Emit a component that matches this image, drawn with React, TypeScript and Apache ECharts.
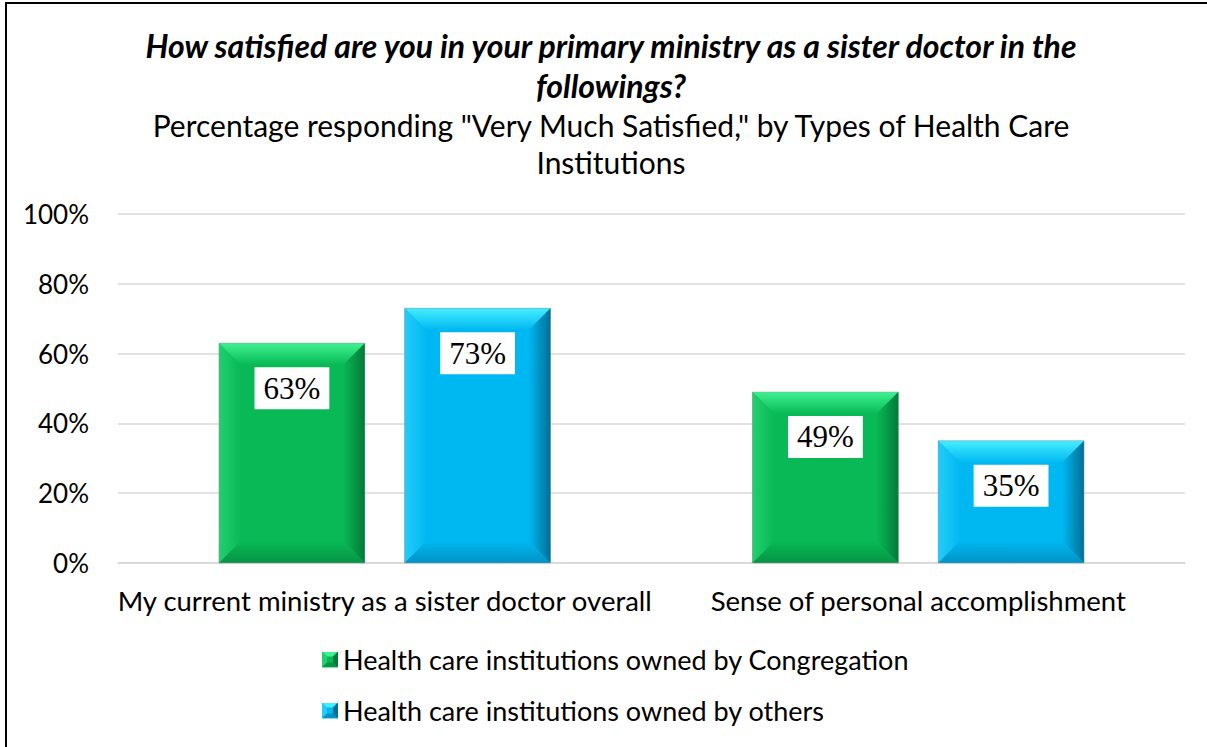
import React, { useEffect, useRef } from "react";
import * as echarts from "echarts";

const categories = [
  "My current ministry as a sister doctor overall",
  "Sense of personal accomplishment",
];
const seriesNames = [
  "Health care institutions owned by Congregation",
  "Health care institutions owned by others",
];
const congregationValues = [63, 49];
const othersValues = [73, 35];
const yTicks = [0, 20, 40, 60, 80, 100];

const titleText =
  "How satisfied are you in your primary ministry as a sister doctor in the\nfollowings?";
const subtitleText =
  'Percentage responding "Very Much Satisfied," by Types of Health Care\nInstitutions';

const palettes = [
  {
    main: "#08B956",
    topLight: "#3FF291",
    leftLight: "#22CF6E",
    rightDark: "#047A39",
    bottomDark: "#069445",
  },
  {
    main: "#00B8F1",
    topLight: "#45EEFF",
    leftLight: "#24CCF8",
    rightDark: "#006F95",
    bottomDark: "#0093C6",
  },
];

const SANS = "Lato, 'Open Sans', sans-serif";

function lg(x0: number, y0: number, x1: number, y1: number, c0: string, c1: string) {
  return new echarts.graphic.LinearGradient(x0, y0, x1, y1, [
    { offset: 0, color: c0 },
    { offset: 1, color: c1 },
  ]);
}

function iconUri(p: any) {
  const svg = `<svg xmlns="http://www.w3.org/2000/svg" width="16" height="16" viewBox="0 0 16 16"><rect x="0" y="0" width="16" height="16" fill="${p.main}"/><polygon points="0,0 16,0 11,5 5,5" fill="${p.topLight}"/><polygon points="0,0 5,5 5,11 0,16" fill="${p.leftLight}"/><polygon points="16,0 16,16 11,11 11,5" fill="${p.rightDark}"/><polygon points="0,16 16,16 11,11 5,11" fill="${p.bottomDark}"/></svg>`;
  return "image://data:image/svg+xml;charset=utf-8," + encodeURIComponent(svg);
}

function makeRenderItem(seriesIdx: number) {
  const p = palettes[seriesIdx];
  const sign = seriesIdx === 0 ? -1 : 1;
  return (params: any, api: any) => {
    const cat = api.value(0);
    const val = api.value(1);
    const top = api.coord([cat, val]);
    const base = api.coord([cat, 0]);
    const band = api.size([1, 0])[0];
    const bw = band * 0.2735;
    const cx = top[0] + sign * band * 0.174;
    const x0 = cx - bw / 2;
    const x1 = cx + bw / 2;
    const y0 = top[1];
    const y1 = base[1];
    const b = Math.min(22, (y1 - y0) / 2, bw / 2);
    return {
      type: "group",
      children: [
        {
          type: "rect",
          shape: { x: x0, y: y0, width: x1 - x0, height: y1 - y0 },
          style: { fill: p.main },
        },
        {
          type: "polygon",
          shape: { points: [[x0, y0], [x1, y0], [x1 - b, y0 + b], [x0 + b, y0 + b]] },
          style: { fill: lg(0, 0, 0, 1, p.topLight, p.main) },
        },
        {
          type: "polygon",
          shape: { points: [[x0, y0], [x0 + b, y0 + b], [x0 + b, y1 - b], [x0, y1]] },
          style: { fill: lg(0, 0, 1, 0, p.leftLight, p.main) },
        },
        {
          type: "polygon",
          shape: { points: [[x1, y0], [x1, y1], [x1 - b, y1 - b], [x1 - b, y0 + b]] },
          style: { fill: lg(1, 0, 0, 0, p.rightDark, p.main) },
        },
        {
          type: "polygon",
          shape: { points: [[x0, y1], [x1, y1], [x1 - b, y1 - b], [x0 + b, y1 - b]] },
          style: { fill: lg(0, 1, 0, 0, p.bottomDark, p.main) },
        },
        {
          type: "rect",
          shape: { x: x0, y: y0, width: x1 - x0, height: y1 - y0 },
          style: { fill: "none", stroke: "rgba(150,150,150,0.45)", lineWidth: 1 },
        },
        {
          type: "text",
          x: cx,
          y: y0 + 24,
          style: {
            text: val + "%",
            align: "center",
            verticalAlign: "top",
            fill: "#000",
            fontFamily: "'Liberation Serif', serif",
            fontSize: 31,
            lineHeight: 32,
            backgroundColor: "#fff",
            padding: [5, 9, 5, 9],
          },
        },
      ],
    };
  };
}

export default function App() {
  const ref = useRef<HTMLDivElement>(null);
  useEffect(() => {
    if (!ref.current) return;
    const chart = echarts.init(ref.current, null, { renderer: "svg" });
    const mk = (vals: number[]) => vals.map((v, i) => [i, v]);
    chart.setOption({
      animation: false,
      backgroundColor: "#fff",
      grid: { left: 118, right: 22, top: 214, bottom: 184, containLabel: false },
      graphic: [
        {
          type: "rect",
          shape: { x: 6, y: 3, width: 1230, height: 780 },
          style: { fill: "none", stroke: "#000", lineWidth: 2 },
          silent: true,
        },
        {
          type: "text",
          x: 611,
          y: 25,
          style: {
            text: titleText,
            align: "center",
            verticalAlign: "top",
            fill: "#000",
            fontFamily: SANS,
            fontStyle: "italic",
            fontWeight: "bold",
            fontSize: 32,
            lineHeight: 40,
          },
        },
        {
          type: "text",
          x: 611,
          y: 106,
          style: {
            text: subtitleText,
            align: "center",
            verticalAlign: "top",
            fill: "#000",
            fontFamily: SANS,
            fontSize: 30,
            lineHeight: 37,
          },
        },
      ],
      legend: {
        orient: "vertical",
        left: 317,
        top: 641,
        itemWidth: 16,
        itemHeight: 16,
        itemGap: 24,
        textStyle: { fontFamily: SANS, fontSize: 27, lineHeight: 27, color: "#000" },
        data: [
          { name: seriesNames[0], icon: iconUri(palettes[0]) },
          { name: seriesNames[1], icon: iconUri(palettes[1]) },
        ],
      },
      xAxis: {
        type: "category",
        data: categories,
        axisLine: { lineStyle: { color: "#d9d9d9", width: 1.5 } },
        axisTick: { show: false },
        axisLabel: {
          color: "#000",
          fontFamily: SANS,
          fontSize: 27.5,
          margin: 23,
          interval: 0,
        },
      },
      yAxis: {
        type: "value",
        min: yTicks[0],
        max: yTicks[yTicks.length - 1],
        interval: 20,
        axisLabel: {
          formatter: "{value}%",
          color: "#000",
          fontFamily: SANS,
          fontSize: 26,
          margin: 29,
        },
        splitLine: { lineStyle: { color: "#d9d9d9", width: 1.5 } },
        axisLine: { show: false },
        axisTick: { show: false },
      },
      series: [
        {
          name: seriesNames[0],
          type: "custom",
          renderItem: makeRenderItem(0),
          encode: { x: 0, y: 1 },
          data: mk(congregationValues),
          itemStyle: { color: palettes[0].main },
        },
        {
          name: seriesNames[1],
          type: "custom",
          renderItem: makeRenderItem(1),
          encode: { x: 0, y: 1 },
          data: mk(othersValues),
          itemStyle: { color: palettes[1].main },
        },
      ],
    });
    return () => chart.dispose();
  }, []);
  return (
    <div
      ref={ref}
      style={{ position: "absolute", left: 0, top: 0, width: 1207, height: 747 }}
    />
  );
}
